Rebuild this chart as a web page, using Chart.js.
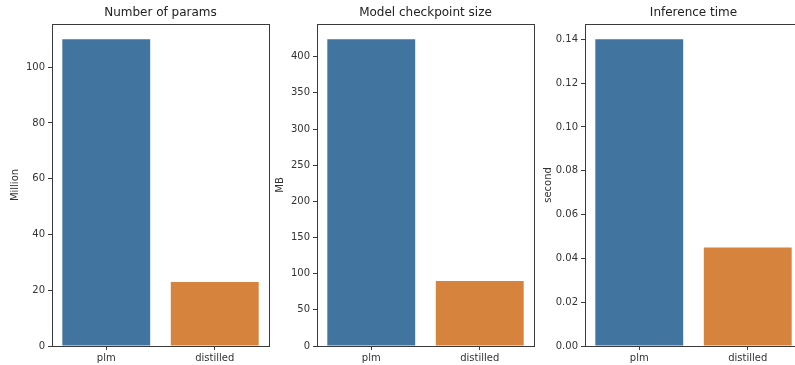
<!DOCTYPE html>
<html>
<head>
<meta charset="utf-8">
<script src="https://cdn.jsdelivr.net/npm/chart.js@4"></script>
<style>
  html, body { margin: 0; padding: 0; background: #fff; overflow: hidden; }
  #wrap { position: relative; width: 795px; height: 365px; overflow: hidden; }
  #wrap canvas { position: absolute; top: 0; }
</style>
</head>
<body>
<div id="wrap">
  <canvas id="c1" width="271" height="365" style="left:0px"></canvas>
  <canvas id="c2" width="271" height="365" style="left:265px"></canvas>
  <canvas id="c3" width="271" height="365" style="left:533px"></canvas>
</div>
<script>
// data
const categories = ['plm', 'distilled'];
const paramsMillion = [110, 23];
const checkpointMB = [424, 90];
const inferenceSec = [0.14, 0.045];

const paramsTicks = [0, 20, 40, 60, 80, 100];
const sizeTicks = [0, 50, 100, 150, 200, 250, 300, 350, 400];
const timeTicks = [0, 0.02, 0.04, 0.06, 0.08, 0.10, 0.12, 0.14];

const barColors = ['#4274a0', '#d6843d'];

Chart.defaults.font.family = '"DejaVu Sans", sans-serif';
Chart.defaults.font.size = 10;
Chart.defaults.color = '#333';

// 네 방향 테두리 (matplotlib 스파인)
const boxPlugin = {
    id: 'box',
    afterDraw(chart) {
        const a = chart.chartArea;
        const ctx = chart.ctx;
        ctx.save();
        ctx.strokeStyle = '#3a3a3a';
        ctx.lineWidth = 1;
        ctx.strokeRect(Math.round(a.left) + 0.5, Math.round(a.top) + 0.5,
            Math.round(a.right - a.left), Math.round(a.bottom - a.top));
        ctx.restore();
    }
};

function makePanel(id, title, yLabel, values, ticks, decimals) {
    const ctx = document.getElementById(id);
    const top = Math.max(...values) * 1.05;
    return new Chart(ctx.getContext('2d'), {
        type: 'bar',
        data: {
            labels: categories,
            datasets: [{
                data: values,
                backgroundColor: barColors,
                borderWidth: 0,
                barPercentage: 0.81,
                categoryPercentage: 1.0
            }]
        },
        options: {
            responsive: false,
            animation: false,
            layout: { padding: { left: 0, right: 2, top: 0, bottom: 0 } },
            plugins: {
                legend: { display: false },
                tooltip: { enabled: false },
                title: {
                    display: true,
                    text: title,
                    fullSize: false,
                    color: '#222',
                    font: { size: 12, weight: 'normal' },
                    padding: { top: 6, bottom: 3.6 }
                }
            },
            scales: {
                x: {
                    offset: true,
                    border: { display: false },
                    grid: { display: true, offset: false, drawOnChartArea: false, tickLength: 4, color: '#3a3a3a' },
                    ticks: { padding: 2, color: '#333' },
                    afterFit(scale) { scale.height = 19; }
                },
                y: {
                    min: 0,
                    max: top,
                    border: { display: false },
                    grid: { display: true, drawOnChartArea: false, tickLength: 4, color: '#3a3a3a' },
                    title: {
                        display: true,
                        text: yLabel,
                        color: '#333',
                        font: { size: 10 },
                        padding: { top: 9, bottom: 0 }
                    },
                    ticks: {
                        padding: 3,
                        color: '#333',
                        callback: function(v) { return Number(v).toFixed(decimals); }
                    },
                    afterBuildTicks(scale) { scale.ticks = ticks.map(v => ({ value: v })); },
                    afterFit(scale) { scale.width = 52; }
                }
            }
        },
        plugins: [boxPlugin]
    });
}

makePanel('c1', 'Number of params', 'Million', paramsMillion, paramsTicks, 0);
makePanel('c2', 'Model checkpoint size', 'MB', checkpointMB, sizeTicks, 0);
makePanel('c3', 'Inference time', 'second', inferenceSec, timeTicks, 2);
</script>
</body>
</html>
